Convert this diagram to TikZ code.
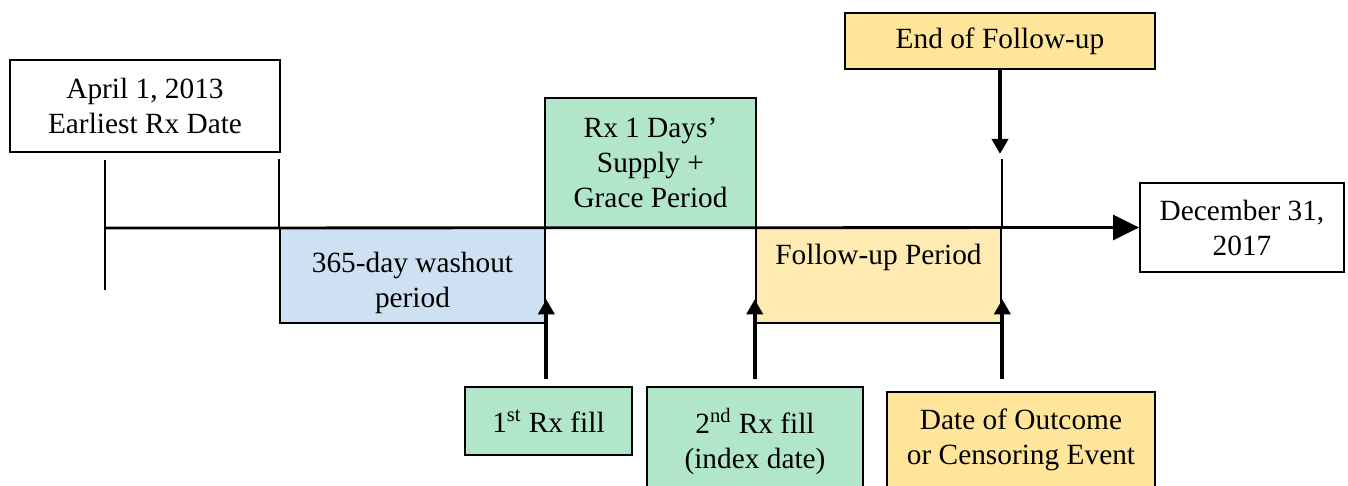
\documentclass[tikz,border=0pt]{standalone}
\usepackage{fontspec}
\setmainfont{Liberation Serif}
\usetikzlibrary{arrows.meta}
\usetikzlibrary{positioning, calc}

\definecolor{rxgreen}{RGB}{178,230,203}
\definecolor{washblue}{RGB}{207,224,242}
\definecolor{fuyellow}{RGB}{255,234,178}
\definecolor{endyellow}{RGB}{255,229,153}

\begin{document}
\begin{tikzpicture}[x=0.02cm, y=-0.02cm,
    txt/.style={font=\fontsize{16.7}{19.9}\selectfont},
    box/.style={txt, draw, line width=1.1pt, align=center, inner sep=0pt},
    period/.style={box, line width=1.5pt},
    inside/.style={txt, align=center, anchor=north, inner sep=0pt},
    tick/.style={line width=1.3pt},
    up arrow/.style={line width=2.3pt, -{Triangle[length=0.3cm, width=0.32cm]}},
    time line/.style={line width=1.6pt, -{Triangle[length=0.52cm, width=0.5cm]}}
]
    \useasboundingbox (0,0) rectangle (1348,485);

    % boxes along the time line
    \node[box, minimum width=5.4cm, minimum height=1.84cm] (start) at (145,106) {April 1, 2013\\Earliest Rx Date};
    \node[box, fill=endyellow, minimum width=6.2cm, minimum height=1.12cm] (endfu) at (1000,41) {End of Follow-up};
    \node[box, fill=rxgreen, minimum width=4.22cm, minimum height=2.6cm] (grace) at (650.5,163) {Rx 1 Days’\\Supply +\\Grace Period};
    \node[period, fill=washblue, minimum width=5.3cm, minimum height=1.9cm,
        label={[inside, yshift=-0.5cm]north:365-day washout\\period}] (washout) at (412.5,275.5) {};
    \node[period, fill=fuyellow, minimum width=4.9cm, minimum height=1.9cm,
        label={[inside, yshift=-0.35cm]north:Follow-up Period}] (fu) at (878.5,275.5) {};
    \node[box, minimum width=4.08cm, minimum height=1.78cm] (dec) at (1242,227.5) {December 31,\\2017};

    % events below
    \node[box, fill=rxgreen, minimum width=3.34cm, minimum height=1.36cm] (rx1) at (548.5,421) {1\textsuperscript{st} Rx fill};
    \node[box, fill=rxgreen, minimum width=4.32cm, minimum height=2.16cm] (rx2) at (755,441) {2\textsuperscript{nd} Rx fill\\(index date)};
    \node[box, fill=endyellow, minimum width=5.36cm, minimum height=1.92cm] (outcome) at (1021,440) {Date of Outcome\\or Censoring Event};

    % time line and ticks
    \coordinate (t0) at (105,228);
    \draw[time line] (t0) -- (dec.west);
    \draw[tick] (t0) ++(0,-68) -- ++(0,130);
    \draw[tick] (washout.north west) -- ++(0,-68);
    \draw[tick] (fu.north east) -- ++(0,-68);

    \draw[up arrow] ($(rx1.north -| washout.east)+(0,-7)$) -- ($(washout.south east)+(0,-25)$);
    \draw[up arrow] ($(rx2.north -| fu.west)+(0,-7)$) -- ($(fu.south west)+(0,-25)$);
    \draw[up arrow] ($(outcome.north -| fu.east)+(0,-12)$) -- ($(fu.south east)+(0,-25)$);
    \draw[up arrow] (endfu.south) -- ++(0,84);
\end{tikzpicture}
\end{document}
